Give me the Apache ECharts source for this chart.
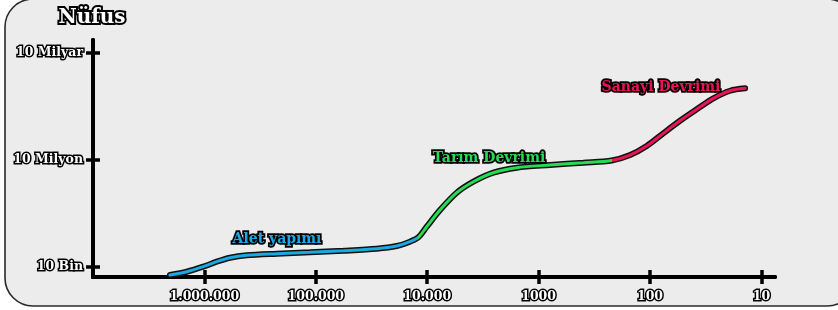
<!DOCTYPE html>
<html><head><meta charset="utf-8">
<script src="https://cdn.jsdelivr.net/npm/echarts@6/dist/echarts.min.js"></script>
<style>html,body{margin:0;padding:0;background:#fff}#c{width:838px;height:310px}</style>
</head><body><div id="c"></div>
<script>
// Years ago (x) and population (y)
const yearsBlue = [2037000, 1442000, 1023000, 776000, 589000, 417000, 224000, 113000, 56600, 28400, 18800, 14300, 12000];
const popBlue = [5970, 7380, 10200, 14100, 18200, 21300, 23600, 25800, 28600, 32600, 38700, 51200, 67900];
const yearsGreen = [12000, 10100, 7670, 5430, 3850, 2550, 1570, 791, 397, 221];
const popGreen = [67900, 134600, 395000, 1205000, 2450000, 4380000, 6050000, 7200000, 8360000, 9620000];
const yearsRed = [221, 151, 107, 76, 53.8, 38.1, 27.0, 19.1, 14.0];
const popRed = [9620000, 13700000, 24500000, 55600000, 125000000, 261000000, 531000000, 867000000, 1014000000];
const xTickYears = [1000000, 100000, 10000, 1000, 100, 10];
const xTickLabels = ['1.000.000', '100.000', '10.000', '1000', '100', '10'];
const yTickValues = [10000, 10000000, 10000000000];
const yTickLabels = ['10 Bin', '10 Milyon', '10 Milyar'];
const seriesNames = ['Alet yapımı', 'Tarım Devrimi', 'Sanayi Devrimi'];
const seriesColors = ['#1aa9e1', '#25dc55', '#ea1558'];

const lg = Math.log10;
const pts = (xs, ys) => xs.map((x, i) => [lg(x), lg(ys[i])]);
const segs = [pts(yearsBlue, popBlue), pts(yearsGreen, popGreen), pts(yearsRed, popRed)];
// one continuous curve (shared junction points kept once)
const all = segs[0].concat(segs[1].slice(1), segs[2].slice(1));
const bounds = [lg(yearsBlue[yearsBlue.length - 1]), lg(yearsGreen[yearsGreen.length - 1])];
const xTickVals = xTickYears.map(lg);
const yTickVals = yTickValues.map(lg);
const xLabelMap = {}; xTickVals.forEach((v, i) => xLabelMap[v.toFixed(3)] = xTickLabels[i]);
const yLabelMap = {}; yTickVals.forEach((v, i) => yLabelMap[v.toFixed(3)] = yTickLabels[i]);

const FONT = '"DejaVu Serif", serif';
const txt = (size, fill, border) => ({ fontFamily: FONT, fontWeight: 'bold', fontSize: size, color: fill, textBorderColor: '#000', textBorderWidth: border });

const axisBase = (inside) => ({
  type: 'value', splitLine: { show: false },
  axisLine: { show: true, lineStyle: { color: '#000', width: 4 } },
  axisTick: { show: true, inside: inside, length: 7, lineStyle: { color: '#000', width: 3.5 } }
});

const xMin = 0.878, xMax = 7, yMin = 3.72, yMax = 10.36;
const xAxes = [false, true].map((inside, k) => Object.assign(axisBase(inside), {
  min: xMin, max: xMax, inverse: true, position: 'bottom',
  axisTick: Object.assign(axisBase(inside).axisTick, { customValues: xTickVals }),
  axisLabel: k === 0 ? Object.assign({ show: true, customValues: xTickVals, margin: 13,
    formatter: v => xLabelMap[v.toFixed(3)] || '' }, txt(12.5, '#fff', 3)) : { show: false }
}));
const yAxes = [false, true].map((inside, k) => Object.assign(axisBase(inside), {
  min: yMin, max: yMax, position: 'left',
  axisTick: Object.assign(axisBase(inside).axisTick, { customValues: yTickVals }),
  axisLabel: k === 0 ? Object.assign({ show: true, customValues: yTickVals, margin: 10,
    formatter: v => yLabelMap[v.toFixed(3)] || '' }, txt(12.5, '#fff', 3)) : { show: false }
}));

const series = [
  { type: 'line', data: all, smooth: 0.3, symbol: 'none', z: 3, silent: true,
    lineStyle: { color: '#111', width: 6, cap: 'round' } },
  { type: 'line', name: 'Nüfus', data: all, smooth: 0.3, symbol: 'none', z: 4,
    lineStyle: { width: 3, cap: 'round' } }
];

const lbl = (text, x, y, color) => ({ type: 'text', z: 100, x: x, y: y,
  style: { text: text, align: 'center', verticalAlign: 'middle', font: 'bold 14px ' + FONT, fill: color, stroke: '#000', lineWidth: 3.5 } });

const chart = echarts.init(document.getElementById('c'), null, { renderer: 'canvas' });
chart.setOption({
  animation: false,
  backgroundColor: '#fff',
  grid: { left: 93, right: 63, top: 40, bottom: 33 },
  xAxis: xAxes, yAxis: yAxes,
  visualMap: { show: false, type: 'piecewise', seriesIndex: 1, dimension: 0,
    pieces: [
      { gte: bounds[0], color: seriesColors[0] },
      { gte: bounds[1], lt: bounds[0], color: seriesColors[1] },
      { lt: bounds[1], color: seriesColors[2] }
    ] },
  series: series,
  graphic: [
    { type: 'rect', z: -10, shape: { x: 5, y: -1, width: 850, height: 307, r: 28 },
      style: { fill: '#ececec', stroke: '#2a2a2a', lineWidth: 1.6 } },
    { type: 'text', z: 100, x: 92, y: 18, style: { text: 'Nüfus', align: 'center', verticalAlign: 'middle',
      font: 'bold 20px ' + FONT, fill: '#fff', stroke: '#000', lineWidth: 4 } },
    lbl(seriesNames[0], 277, 239, seriesColors[0]),
    lbl(seriesNames[1], 489, 158, seriesColors[1]),
    lbl(seriesNames[2], 661, 87, seriesColors[2])
  ]
});
</script></body></html>
